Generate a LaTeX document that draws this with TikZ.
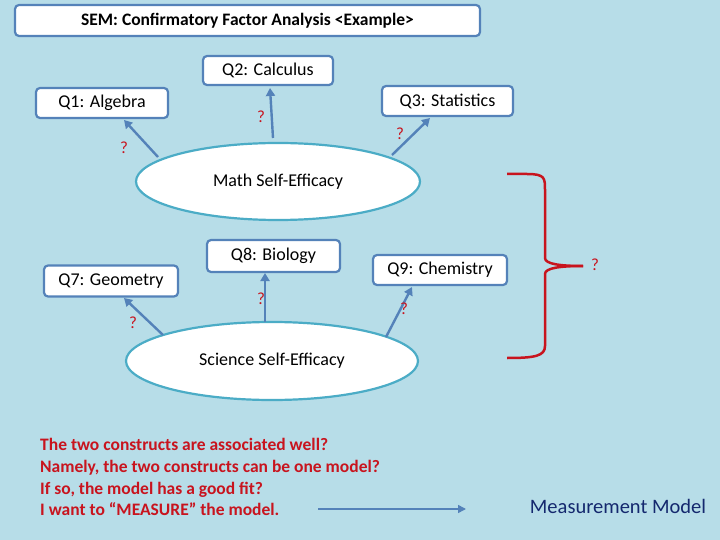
\documentclass[tikz,border=0pt]{standalone}
\usepackage{fontspec}
\setmainfont{Carlito}
\usetikzlibrary{arrows.meta}
\definecolor{bg}{RGB}{183,221,232}
\definecolor{bbord}{RGB}{84,130,185}
\definecolor{ebord}{RGB}{75,172,198}
\definecolor{qred}{RGB}{200,20,30}
\definecolor{mblue}{RGB}{20,40,110}
\begin{document}
\begin{tikzpicture}[x=1pt,y=-1pt,
  qbox/.style={draw=bbord,line width=2.2pt,fill=white,rounded corners=4pt,font=\fontsize{18}{20}\selectfont,inner sep=0},
  arr/.style={draw=bbord,line width=2.4pt,-{Triangle[length=8pt,width=9pt]}},
  qm/.style={text=qred,font=\fontsize{17}{19}\selectfont}]
\useasboundingbox (0,0) rectangle (720,540);
\fill[bg] (0,0) rectangle (720,540);
\node[qbox,minimum width=465pt,minimum height=31pt,font=\bfseries\fontsize{17.5}{20}\selectfont] (title) at (247.5,20.5) {SEM: Confirmatory Factor Analysis <Example>};
\node[qbox,minimum width=130pt,minimum height=29pt] (q2) at (268,70.5) {Q2: Calculus};
\node[qbox,minimum width=132pt,minimum height=30pt] (q1) at (102,103) {Q1: Algebra};
\node[qbox,minimum width=131pt,minimum height=30pt] (q3) at (447.5,101) {Q3: Statistics};
\draw[draw=ebord,line width=2.2pt,fill=white] (278,181.5) ellipse [x radius=142,y radius=38.5];
\node[font=\fontsize{18}{20}\selectfont] (math) at (278,181.5) {Math Self-Efficacy};
\coordinate (m1) at (158,157); \coordinate (m2) at (273,138); \coordinate (m3) at (392,155);
\coordinate (t1) at (124,120); \coordinate (t2) at (270,88); \coordinate (t3) at (430,118);
\draw[arr] (m1) -- (t1);
\draw[arr] (m2) -- (t2);
\draw[arr] (m3) -- (t3);
\node[qm] at (124,148) {?};
\node[qm] at (261,117) {?};
\node[qm] at (400,134) {?};
\node[qbox,minimum width=133pt,minimum height=32pt] (q8) at (273.5,256) {Q8: Biology};
\node[qbox,minimum width=134pt,minimum height=31pt] (q7) at (111,281) {Q7: Geometry};
\node[qbox,minimum width=134pt,minimum height=30pt] (q9) at (440,270) {Q9: Chemistry};
\draw[draw=ebord,line width=2.2pt,fill=white] (272,361) ellipse [x radius=146,y radius=39];
\node[font=\fontsize{18}{20}\selectfont] (sci) at (272,361) {Science Self-Efficacy};
\coordinate (s1) at (163,335); \coordinate (s2) at (265,322); \coordinate (s3) at (386,337);
\coordinate (u1) at (124,298); \coordinate (u2) at (265,273); \coordinate (u3) at (412,287);
\draw[arr] (s1) -- (u1);
\draw[arr] (s2) -- (u2);
\draw[arr] (s3) -- (u3);
\node[qm] at (133,323) {?};
\node[qm] at (261,299) {?};
\node[qm] at (404,309) {?};
\draw[qred,line width=2.5pt] (507,174) -- (527,174) .. controls (545,174) and (545,178) .. (545,190) -- (545,258) .. controls (545,264) and (560,266) .. (583,266);
\draw[qred,line width=2.5pt] (583,266) .. controls (560,266) and (545,268) .. (545,274) -- (545,346) .. controls (545,356) and (535,358) .. (507,358);
\node[qm] at (595,265) {?};
\node[text=qred,font=\bfseries\fontsize{17.5}{21.8}\selectfont,align=left,anchor=north west,inner sep=0] (txt) at (40,438) {The two constructs are associated well?\\Namely, the two constructs can be one model?\\If so, the model has a good fit?\\I want to “MEASURE” the model.};
\coordinate (a1) at (318,509);
\node[text=mblue,font=\fontsize{20.5}{22}\selectfont] (mm) at (618,506) {Measurement Model};
\draw[draw=bbord,line width=1.5pt,-{Triangle[length=8pt,width=8pt]}] (a1) -- (466,509);
\end{tikzpicture}
\end{document}
